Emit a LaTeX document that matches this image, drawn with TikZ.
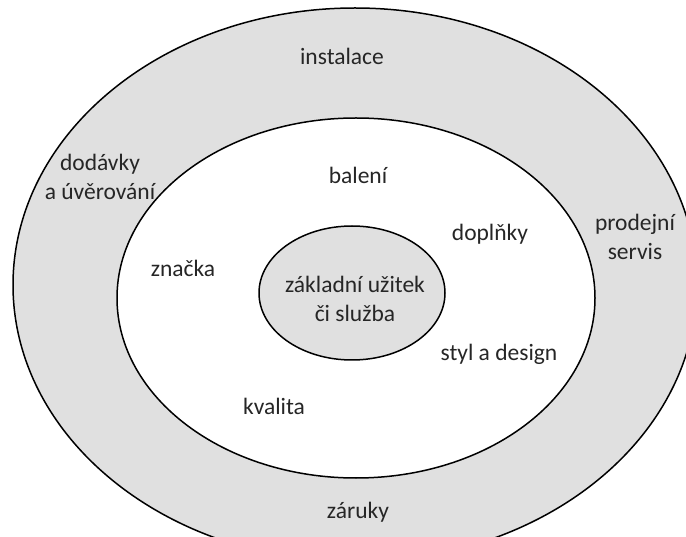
\documentclass[tikz,border=0pt]{standalone}
\usepackage{fontspec}
\setmainfont{Carlito}
\definecolor{ringgray}{HTML}{E0E0E0}
\begin{document}
\begin{tikzpicture}[x=1pt,y=-1pt,
  ring/.style={draw=black,line width=1.5pt,fill=ringgray},
  lbl/.style={font=\fontsize{23.5}{28.5}\selectfont,text=black!85,align=center,inner sep=0pt}]
\useasboundingbox (0,0) rectangle (686,537);
\begin{scope}
\clip (0,0) rectangle (686,537);
\path[ring] (355,285) ellipse [x radius=342, y radius=277];
\path[ring,fill=white] (356,298) ellipse [x radius=239, y radius=180];
\path[ring] (352,293) ellipse [x radius=93, y radius=67];
\end{scope}
\node[lbl] (inst) at (342,56) {instalace};
\node[lbl] (dod) at (100,177) {dodávky\\a úvěrování};
\node[lbl] (bal) at (358,175) {balení};
\node[lbl] (dop) at (490,234) {doplňky};
\node[lbl] (prod) at (635,237) {prodejní\\servis};
\node[lbl] (zn) at (183,268) {značka};
\node[lbl] (zak) at (355,299) {základní užitek\\či služba};
\node[lbl] (styl) at (499,354) {styl a design};
\node[lbl] (kval) at (274,406) {kvalita};
\node[lbl] (zar) at (358,512) {záruky};
\end{tikzpicture}
\end{document}
